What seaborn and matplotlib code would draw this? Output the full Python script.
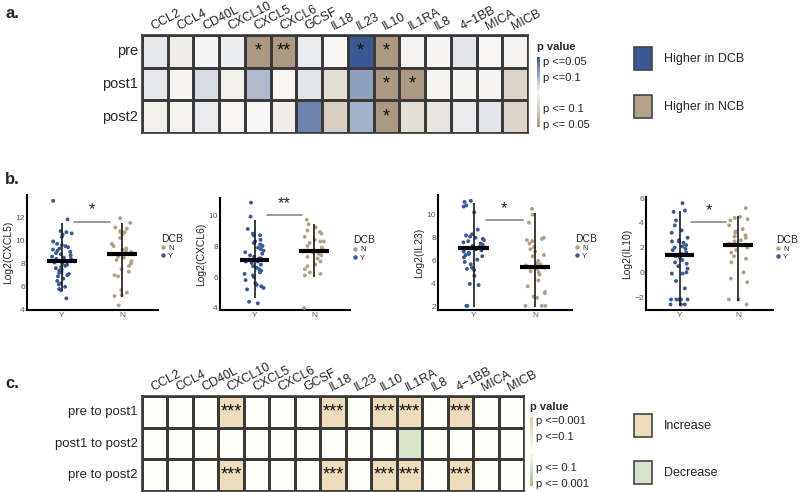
import numpy as np
import pandas as pd
import matplotlib.pyplot as plt
import seaborn as sns
from matplotlib.colors import LinearSegmentedColormap
from matplotlib.lines import Line2D
from matplotlib.patches import Rectangle

# =====================================
# Setup
# =====================================

sns.set_theme(style="white")
plt.rcParams["font.family"] = ["Liberation Sans", "DejaVu Sans"]

np.random.seed(7)

W, H = 800, 492

blue = "#3A5893"
tan = "#B4A085"

# =====================================
# Data - panel a (DCB vs NCB per timepoint)
# score > 0: higher in DCB, score < 0: higher in NCB
# =====================================

cytokines = ["CCL2", "CCL4", "CD40L", "CXCL10", "CXCL5", "CXCL6", "GCSF",
             "IL18", "IL23", "IL10", "IL1RA", "IL8", "4\u22121BB", "MICA", "MICB"]
timepoints = ["pre", "post1", "post2"]

score_pre = [0.10, -0.12, -0.03, 0.06, -1.0, -1.0, 0.08, -0.02, 1.0, -1.0,
             -0.07, -0.03, 0.12, -0.02, -0.05]
score_post1 = [0.10, -0.03, 0.18, -0.08, 0.38, -0.02, 0.12, -0.28, 0.55, -1.0,
               -1.0, -0.04, -0.04, -0.03, -0.38]
score_post2 = [-0.08, -0.05, 0.08, -0.02, -0.01, -0.10, 0.72, -0.45, 0.44, -1.0,
               -0.28, -0.20, 0.08, 0.12, -0.38]

stars_pre = ["", "", "", "", "*", "**", "", "", "*", "*", "", "", "", "", ""]
stars_post1 = ["", "", "", "", "", "", "", "", "", "*", "*", "", "", "", ""]
stars_post2 = ["", "", "", "", "", "", "", "", "", "*", "", "", "", "", ""]

# =====================================
# Data - panel b (log2 levels by DCB)
# =====================================

cxcl5_y = [13.4, 11.8, 10.8, 10.7, 10.6, 10.5, 10.3, 9.9, 9.7, 9.6, 9.5, 9.4,
           9.3, 9.2, 9.1, 9.0, 8.9, 8.8, 8.7, 8.6, 8.5, 8.4, 8.4, 8.3, 8.2, 8.1,
           8.0, 7.9, 7.8, 7.7, 7.6, 7.5, 7.4, 7.3, 7.2, 7.1, 7.0, 6.9, 6.7, 6.5,
           6.3, 6.2, 6.0, 5.8, 5.7, 5.0]
cxcl5_n = [11.9, 11.5, 11.1, 11.0, 10.8, 10.7, 10.7, 10.5, 10.2, 9.7, 9.5, 9.3,
           9.2, 9.1, 9.0, 8.9, 8.8, 8.6, 8.5, 8.3, 8.2, 8.0, 7.8, 7.5, 7.3, 7.0,
           6.9, 5.7, 5.5, 5.3, 5.2, 4.4]

cxcl6_y = [10.8, 9.9, 9.1, 8.8, 8.7, 8.7, 8.4, 8.3, 8.2, 8.1, 8.0, 7.9, 7.8,
           7.7, 7.6, 7.5, 7.4, 7.3, 7.2, 7.2, 7.1, 7.0, 7.0, 6.9, 6.8, 6.7, 6.6,
           6.5, 6.4, 6.3, 6.2, 6.1, 6.0, 5.8, 5.6, 5.5, 5.4, 5.3, 5.2, 4.4, 4.3]
cxcl6_n = [9.7, 9.4, 9.2, 9.0, 8.9, 8.8, 8.6, 8.4, 8.3, 8.3, 8.2, 8.0, 7.9, 7.8,
           7.7, 7.6, 7.5, 7.4, 7.3, 7.2, 7.0, 6.8, 6.7, 6.5, 6.3, 6.2, 6.1, 4.0]

il23_y = [11.2, 11.1, 10.8, 10.7, 10.2, 8.7, 8.3, 8.2, 8.1, 8.0, 7.9, 7.8, 7.7,
          7.6, 7.5, 7.4, 7.3, 7.2, 7.1, 7.0, 6.9, 6.8, 6.7, 6.6, 6.5, 6.4, 6.3,
          6.1, 5.9, 5.7, 5.4, 5.3, 5.2, 4.7, 4.0, 3.9, 2.1, 2.1]
il23_n = [10.5, 10.0, 9.3, 8.0, 7.9, 7.8, 7.7, 7.5, 7.2, 7.0, 6.8, 6.5, 6.4, 6.0,
          5.8, 5.7, 5.6, 5.5, 5.4, 5.3, 5.1, 5.0, 4.8, 4.3, 3.8, 3.3, 3.2, 2.9,
          2.8, 2.1, 2.1, 2.1]

il10_y = [5.6, 5.0, 4.9, 4.2, 3.8, 3.4, 3.2, 2.8, 2.6, 2.5, 2.5, 2.4, 2.2, 2.1,
          2.0, 1.9, 1.8, 1.6, 1.5, 1.3, 1.2, 1.0, 0.8, 0.7, 0.5, 0.3, 0.0, -0.1,
          -0.1, -0.7, -1.3, -2.2, -2.2, -2.2, -2.2, -2.2, -2.2, -2.6, -2.6, -2.6]
il10_n = [5.2, 4.5, 4.4, 4.3, 4.2, 3.8, 3.5, 3.3, 3.2, 3.0, 2.9, 2.8, 2.6, 2.5,
          2.3, 2.2, 2.0, 1.8, 1.6, 1.3, 1.1, 0.8, 0.0, -0.5, -0.8, -2.2, -2.2, -2.6]

# group summaries (order: Y, N)
cxcl5_mean, cxcl5_lo, cxcl5_hi = [8.2, 8.85], [5.6, 5.1], [11.5, 11.5]
cxcl6_mean, cxcl6_lo, cxcl6_hi = [7.1, 7.65], [4.65, 6.0], [9.7, 9.4]
il23_mean, il23_lo, il23_hi = [7.1, 5.5], [2.0, 2.0], [11.0, 10.1]
il10_mean, il10_lo, il10_hi = [1.38, 2.2], [-2.7, -2.3], [5.0, 4.6]

sig_labels = ["*", "**", "*", "*"]
sig_line_y = [11.6, 10.0, 9.5, 4.05]

# =====================================
# Data - panel c (change between timepoints)
# > 0: increase, < 0: decrease
# =====================================

changes = ["pre to post1", "post1 to post2", "pre to post2"]
change_pre_post1 = [0, 0, 0, 0.65, 0, 0, 0, 0.65, 0, 0.65, 0.65, 0, 0.65, 0, 0]
change_post1_post2 = [0, 0, 0, 0, 0, 0, 0, 0, 0, 0, -0.4, 0, 0, 0, 0]
change_pre_post2 = [0, 0, 0, 0.65, 0, 0, 0, 0.65, 0, 0.65, 0.65, 0, 0.65, 0, 0]

cstars_1 = ["", "", "", "***", "", "", "", "***", "", "***", "***", "", "***", "", ""]
cstars_2 = [""] * 15
cstars_3 = ["", "", "", "***", "", "", "", "***", "", "***", "***", "", "***", "", ""]

# =====================================
# Figure
# =====================================

fig = plt.figure(figsize=(W / 100, H / 100), dpi=100)


def px_axes(x0, y0, x1, y1):
    return fig.add_axes([x0 / W, 1 - y1 / H, (x1 - x0) / W, (y1 - y0) / H])


over = px_axes(0, 0, W, H)
over.set_xlim(0, W)
over.set_ylim(H, 0)
over.axis("off")

for lab, yy in [("a.", 14), ("b.", 179), ("c.", 383)]:
    over.text(5, yy, lab, fontsize=12, fontweight="bold", va="center")


def legend_box(y0, color, text):
    over.add_patch(Rectangle((634, y0), 18, 23, facecolor=color,
                             edgecolor="#444444", lw=1.2))
    over.text(664, y0 + 12, text, fontsize=9, va="center", color="#222222")


def draw_heat(ax, cax, df, annot, cmap, ticks, ticklabels, rowsize):
    sns.heatmap(df, ax=ax, cmap=cmap, vmin=-1, vmax=1, annot=annot, fmt="",
                annot_kws={"fontsize": 13, "color": "#111111"},
                linewidths=1.0, linecolor="#3a3a3a", cbar_ax=cax)
    ax.xaxis.tick_top()
    ax.set_xticklabels(df.columns, rotation=28, ha="left",
                       rotation_mode="anchor", fontsize=9)
    ax.set_yticklabels(df.index, rotation=0, fontsize=rowsize)
    ax.tick_params(axis="y", length=0, pad=3)
    ax.tick_params(axis="x", length=0, pad=2)
    ax.set_xlabel("")
    ax.set_ylabel("")
    for s in ax.spines.values():
        s.set_visible(True)
        s.set_color("#3a3a3a")
        s.set_linewidth(1.2)
    cb = ax.collections[0].colorbar
    cb.set_ticks(ticks)
    cb.set_ticklabels(ticklabels)
    cb.outline.set_visible(False)
    cb.ax.tick_params(length=0, labelsize=8, pad=2, colors="#222222")


# =====================================
# Panel a
# =====================================

heat_a = pd.DataFrame([score_pre, score_post1, score_post2],
                      index=timepoints, columns=cytokines)
annot_a = np.array([stars_pre, stars_post1, stars_post2])
cmap_a = LinearSegmentedColormap.from_list("a", ["#AD9981", "#F9F8F6", blue])

ax_a = px_axes(142, 35, 528, 133)
cax_a = px_axes(537, 57, 540, 127)
draw_heat(ax_a, cax_a, heat_a, annot_a, cmap_a,
          [0.89, 0.43, -0.46, -0.91],
          ["p <=0.05", "p <=0.1", "p <= 0.1", "p <= 0.05"], 10.5)
over.text(537, 47, "p value", fontsize=8, fontweight="bold", va="center")
legend_box(47, blue, "Higher in DCB")
legend_box(95, "#B3A38B", "Higher in NCB")

# =====================================
# Panel b
# =====================================

panels = [
    ("Log2(CXCL5)", cxcl5_y, cxcl5_n, cxcl5_mean, cxcl5_lo, cxcl5_hi,
     (27, 195, 158, 310), (4, 13.9), [4, 6, 8, 10, 12]),
    ("Log2(CXCL6)", cxcl6_y, cxcl6_n, cxcl6_mean, cxcl6_lo, cxcl6_hi,
     (220, 198, 350, 310), (3.87, 11.1), [4, 6, 8, 10]),
    ("Log2(IL23)", il23_y, il23_n, il23_mean, il23_lo, il23_hi,
     (438, 195, 572, 310), (1.74, 11.7), [2, 4, 6, 8, 10]),
    ("Log2(IL10)", il10_y, il10_n, il10_mean, il10_lo, il10_hi,
     (646, 197, 773, 310), (-3.05, 6.1), [-2, 0, 2, 4, 6]),
]

for i, (ylab, yv, nv, mean, lo, hi, box, ylim, yticks) in enumerate(panels):
    ax = px_axes(*box)
    df = pd.DataFrame({
        "DCB": ["Y"] * len(yv) + ["N"] * len(nv),
        "value": yv + nv,
    })
    sns.stripplot(data=df, x="DCB", y="value", hue="DCB", order=["Y", "N"],
                  hue_order=["N", "Y"], palette={"N": tan, "Y": blue},
                  jitter=0.17, size=2.8, linewidth=0, legend=False, ax=ax)
    xs = [0, 1]
    ax.vlines(xs, lo, hi, color="#1a1a1a", lw=1.2, zorder=4)
    ax.hlines(mean, [x - 0.25 for x in xs], [x + 0.25 for x in xs],
              color="black", lw=3.0, zorder=5)
    ax.plot([0.2, 0.8], [sig_line_y[i]] * 2, color="#8a8a8a", lw=1.2)
    ax.annotate(sig_labels[i], (0.5, sig_line_y[i]), xytext=(0, 3),
                textcoords="offset points", ha="center", va="bottom",
                fontsize=12)
    ax.set_xlim(-0.58, 1.6)
    ax.set_ylim(*ylim)
    ax.set_yticks(yticks)
    ax.set_xlabel("")
    ax.set_ylabel(ylab, fontsize=7.5, labelpad=1.5)
    for s in ["top", "right"]:
        ax.spines[s].set_visible(False)
    for s in ["left", "bottom"]:
        ax.spines[s].set_color("black")
        ax.spines[s].set_linewidth(1.5)
    ax.tick_params(labelsize=6, colors="#555555", length=0, pad=1.5)
    handles = [
        Line2D([], [], marker="o", ls="", color=tan, ms=2.2, label="N"),
        Line2D([], [], marker="o", ls="", color=blue, ms=2.2, label="Y"),
    ]
    ax.legend(handles=handles, title="DCB", loc="center left",
              bbox_to_anchor=(1.0, 0.55), frameon=False, fontsize=5.5,
              title_fontsize=7.5, handletextpad=0.3, labelspacing=0.1,
              handlelength=0.6, borderaxespad=0.2, borderpad=0.2,
              alignment="left")

# =====================================
# Panel c
# =====================================

heat_c = pd.DataFrame([change_pre_post1, change_post1_post2, change_pre_post2],
                      index=changes, columns=cytokines)
annot_c = np.array([cstars_1, cstars_2, cstars_3])
cmap_c = LinearSegmentedColormap.from_list("c", ["#9FBE86", "#FFFFF8", "#E6C99A"])

ax_c = px_axes(142, 396, 524, 491)
cax_c = px_axes(530, 417, 533, 486)
draw_heat(ax_c, cax_c, heat_c, annot_c, cmap_c,
          [0.91, 0.45, -0.45, -0.91],
          ["p <=0.001", "p <=0.1", "p <= 0.1", "p <= 0.001"], 9.5)
over.text(530, 407, "p value", fontsize=8, fontweight="bold", va="center")
legend_box(414, "#F0DDBC", "Increase")
legend_box(461, "#D8E5CE", "Decrease")

fig.savefig("out.png", dpi=100)
